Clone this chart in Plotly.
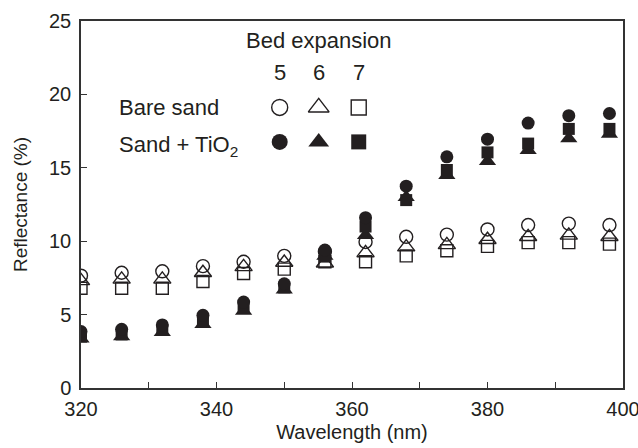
import plotly.graph_objects as go

wavelength = [320, 326, 332, 338, 344, 350, 356, 362, 368, 374, 380, 386, 392, 398]

bare_5 = [7.65, 7.85, 7.95, 8.3, 8.6, 9.0, 9.3, 9.95, 10.3, 10.45, 10.8, 11.1, 11.2, 11.1]
bare_6 = [7.3, 7.4, 7.4, 7.85, 8.25, 8.55, 8.5, 9.2, 9.6, 9.75, 10.1, 10.3, 10.4, 10.3]
bare_7 = [6.8, 6.8, 6.8, 7.25, 7.8, 8.1, 8.6, 8.6, 9.0, 9.35, 9.65, 9.9, 9.9, 9.8]

tio2_5 = [3.85, 4.0, 4.3, 4.95, 5.85, 7.1, 9.4, 11.6, 13.75, 15.75, 16.95, 18.05, 18.55, 18.7]
tio2_6 = [3.35, 3.5, 3.8, 4.35, 5.25, 6.7, 9.0, 10.4, 13.0, 14.5, 15.45, 16.2, 17.0, 17.3]
tio2_7 = [3.5, 3.65, 3.95, 4.55, 5.45, 6.85, 8.95, 11.0, 12.8, 14.85, 16.05, 16.65, 17.65, 17.65]

series_names = ["Bare sand 5", "Bare sand 6", "Bare sand 7", "Sand + TiO2 5", "Sand + TiO2 6", "Sand + TiO2 7"]
expansion_labels = ["5", "6", "7"]

INK = "#231f20"
open_syms = ["circle-open", "triangle-up-open", "square-open"]
fill_syms = ["circle", "triangle-up", "square"]
data_sizes = [13, 15, 12]
key_sizes = [16, 18, 15]

fig = go.Figure()

bare = [bare_5, bare_6, bare_7]
tio2 = [tio2_5, tio2_6, tio2_7]

for i in [2, 1, 0]:
    fig.add_trace(go.Scatter(
        x=wavelength, y=bare[i], mode="markers", name=series_names[i],
        marker=dict(symbol=open_syms[i], size=data_sizes[i], color=INK,
                    line=dict(width=1.4, color=INK)),
        showlegend=False))
for i in [1, 2, 0]:
    fig.add_trace(go.Scatter(
        x=wavelength, y=tio2[i], mode="markers", name=series_names[i + 3],
        marker=dict(symbol=fill_syms[i], size=data_sizes[i], color=INK,
                    line=dict(width=0)),
        showlegend=False))

# legend key markers on an overlay axis (0..1 box coordinates)
key_x = [0.3666, 0.4386, 0.5124]
key_row_y = [0.7645, 0.6706]
for i in range(3):
    fig.add_trace(go.Scatter(
        x=[key_x[i]], y=[key_row_y[0]], xaxis="x2", yaxis="y2", mode="markers",
        marker=dict(symbol=open_syms[i], size=key_sizes[i], color=INK,
                    line=dict(width=1.4, color=INK)),
        showlegend=False, hoverinfo="skip"))
    fig.add_trace(go.Scatter(
        x=[key_x[i]], y=[key_row_y[1]], xaxis="x2", yaxis="y2", mode="markers",
        marker=dict(symbol=fill_syms[i], size=key_sizes[i], color=INK,
                    line=dict(width=0)),
        showlegend=False, hoverinfo="skip"))

FONT = "Liberation Sans, Arial, sans-serif"
LEG = 22

annotations = [
    dict(text="Bed expansion", x=0.4385, y=0.9456, xanchor="center", yanchor="middle",
         font=dict(size=LEG, color=INK)),
    dict(text="Bare sand", x=0.0659, y=key_row_y[0], xanchor="left", yanchor="middle",
         font=dict(size=LEG, color=INK)),
    dict(text="Sand + TiO<sub>2</sub>", x=0.0659, y=key_row_y[1] - 0.012, xanchor="left",
         yanchor="middle", font=dict(size=LEG, color=INK)),
]
for i, lab in enumerate(expansion_labels):
    annotations.append(dict(text=lab, x=key_x[i], y=0.86, xanchor="center", yanchor="middle",
                            font=dict(size=LEG, color=INK)))
for a in annotations:
    a.update(xref="paper", yref="paper", showarrow=False)

fig.update_layout(
    width=638, height=448,
    margin=dict(l=81, r=15, t=21, b=60),
    paper_bgcolor="white", plot_bgcolor="white",
    font=dict(family=FONT, color=INK, size=20),
    annotations=annotations,
    xaxis=dict(
        range=[320, 400], dtick=20, tick0=320, ticks="inside", ticklen=6, tickwidth=1.3,
        tickcolor="#333", showline=True, linecolor="#333", linewidth=1.5, mirror=True,
        showgrid=False, zeroline=False, tickfont=dict(size=20, color=INK),
        minor=dict(dtick=10, ticks="inside", ticklen=6, tickwidth=1.3, tickcolor="#333", showgrid=False),
        title=dict(text="Wavelength (nm)", font=dict(size=20, color=INK), standoff=6),
        ticklabelstandoff=2, ticklabeloverflow="allow", automargin=False,
    ),
    yaxis=dict(
        range=[0, 25], dtick=5, ticks="inside", ticklen=6, tickwidth=1.3, tickcolor="#333",
        showline=True, linecolor="#333", linewidth=1.5, mirror=True,
        showgrid=False, zeroline=False, tickfont=dict(size=20, color=INK),
        title=dict(text="Reflectance (%)", font=dict(size=19, color=INK), standoff=16),
        ticklabelstandoff=4, ticklabeloverflow="allow", automargin=False,
    ),
    xaxis2=dict(range=[0, 1], overlaying="x", visible=False, fixedrange=True),
    yaxis2=dict(range=[0, 1], overlaying="y", visible=False, fixedrange=True),
)

fig.write_html(
    "out.html",
    config={"displayModeBar": False},
    post_script="document.body.style.margin='0';document.body.style.overflow='hidden';",
)
